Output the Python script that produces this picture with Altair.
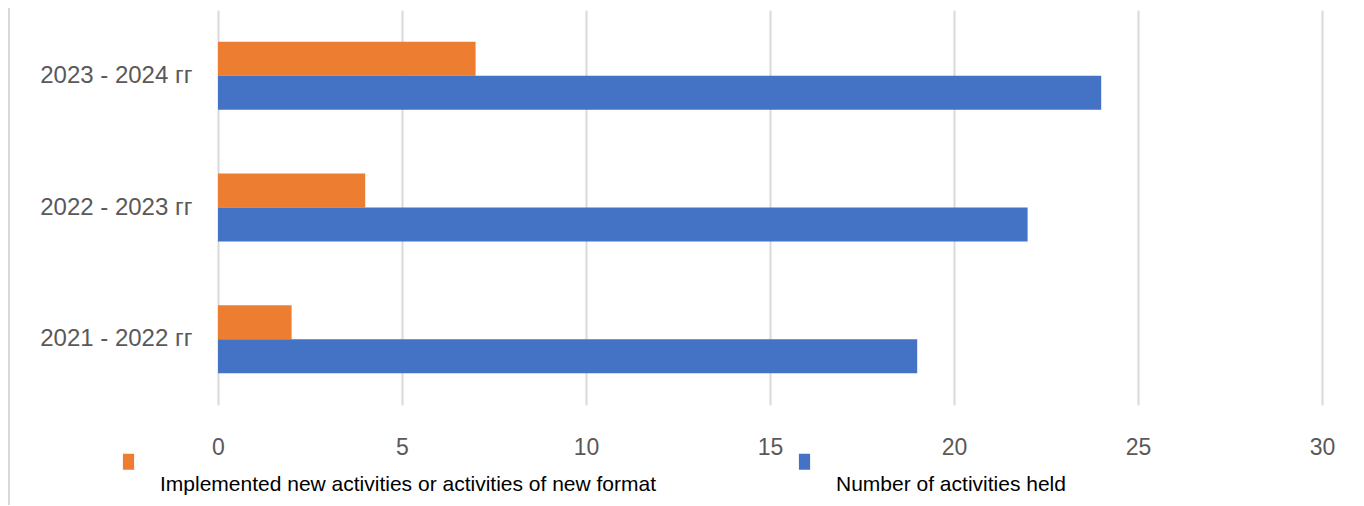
import altair as alt
import pandas as pd

periods = ["2023 - 2024 гг", "2022 - 2023 гг", "2021 - 2022 гг"]
series = ["Implemented new activities or activities of new format", "Number of activities held"]
new_format = [7, 4, 2]
held = [24, 22, 19]
x_ticks = [0, 5, 10, 15, 20, 25, 30]
colors = ["#ED7D31", "#4472C4"]

rows = []
for p, a, b in zip(periods, new_format, held):
    rows.append({"period": p, "series": series[0], "value": a})
    rows.append({"period": p, "series": series[1], "value": b})
df = pd.DataFrame(rows)

FONT = "Liberation Sans"

bars = alt.Chart(df).mark_bar().encode(
    y=alt.Y("period:N", sort=periods,
            scale=alt.Scale(paddingInner=0.484, paddingOuter=0.242),
            axis=alt.Axis(title=None, domain=False, ticks=False, labelFontSize=24,
                          labelColor="#595959", labelPadding=26, labelFont=FONT)),
    yOffset=alt.YOffset("series:N", sort=series,
                        scale=alt.Scale(paddingInner=0, paddingOuter=0)),
    x=alt.X("value:Q", scale=alt.Scale(domain=[0, 30], nice=False),
            axis=alt.Axis(values=x_ticks, title=None, domain=False, ticks=False, grid=True,
                          gridColor="#d9d9d9", gridWidth=2, labelFontSize=23,
                          labelColor="#595959", labelPadding=31, labelFlush=False,
                          labelFont=FONT)),
    color=alt.Color("series:N", sort=series,
                    scale=alt.Scale(domain=series, range=colors),
                    legend=alt.Legend(title=None, orient="none", legendX=-100, legendY=441,
                                      direction="horizontal",
                                      symbolType="M-0.7,-1H0.7V1H-0.7Z",
                                      symbolSize=256, symbolStrokeWidth=0, symbolOpacity=1,
                                      labelFontSize=21, labelColor="black", labelFont=FONT,
                                      labelOffset=21, columnPadding=137, labelLimit=1000,
                                      labelExpr="['', '', datum.label]")),
)

frame = alt.Chart(df).mark_rule(color="#d9d9d9", strokeWidth=2).encode(
    x=alt.value(-209), y=alt.value(-2), y2=alt.value(495)
)

chart = alt.layer(frame, bars).properties(
    width=1104, height=395,
    padding={"left": 210, "top": 2, "right": 34, "bottom": 100},
    autosize="none",
).configure_view(stroke=None)

chart.save("out.html", embed_options={"renderer": "svg", "actions": False})
